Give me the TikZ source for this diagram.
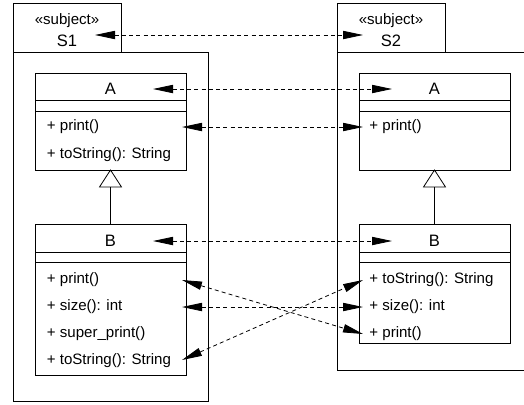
\documentclass[tikz,border=0pt]{standalone}
\usepackage{fontspec}
\setmainfont{Liberation Sans}
\usetikzlibrary{arrows.meta}
\tikzset{
  link/.style={dash pattern=on 3pt off 2.4pt, {Triangle[length=15pt,width=6.2pt]}-{Triangle[length=15pt,width=6.2pt]}},
  txt/.style={inner sep=0.75pt, font=\fontsize{11.3}{13}\selectfont},
  clsname/.style={inner sep=0.75pt, font=\fontsize{12.4}{14}\selectfont},
  op/.style={txt, anchor=west, inner xsep=4.5pt},
}
\begin{document}
\begin{tikzpicture}[x=0.75pt,y=0.75pt,yscale=-1,xscale=1, line width=0.6pt]
    \useasboundingbox (0,0) rectangle (524,404);
    \clip (0,0) rectangle (524,404);
    % packages
    \draw   (13,3) rectangle (121,52) ;
    \draw   (13,52) rectangle (208,401) ;
    \draw   (337,3) rectangle (445,52) ;
    \draw   (337,52) rectangle (540,370) ;
    \draw (67,21) node [txt] (st1) {«subject»};
    \draw (67,41) node [clsname] (s1) {S1};
    \draw (391,21) node [txt] (st2) {«subject»};
    \draw (391,41) node [clsname] (s2) {S2};
    % classes in S1
    \draw   (35,73) rectangle (186,170) ;
    \draw   (35,100) -- (186,100) (35,111) -- (186,111) ;
    \draw   (35,224) rectangle (186,375) ;
    \draw   (35,252) -- (186,252) (35,262) -- (186,262) ;
    \draw   (110.5,170) -- (99.5,187) -- (121.5,187) -- cycle ;
    \draw   (110.5,187) -- (110.5,224) ;
    \draw (110.5,89) node [clsname] (a1) {A};
    \draw (110.5,241) node [clsname] (b1) {B};
    \draw (40.5,127) node [op] (a1print) {+ print()};
    \draw (40.5,155) node [op] (a1tostr) {+ toString(): String};
    \draw (40.5,280) node [op] (b1print) {+ print()};
    \draw (40.5,307) node [op] (b1size) {+ size(): int};
    \draw (40.5,334) node [op] (b1super) {+ super\_print()};
    \draw (40.5,361) node [op] (b1tostr) {+ toString(): String};
    % classes in S2
    \draw   (359,73) rectangle (510,170) ;
    \draw   (359,100) -- (510,100) (359,111) -- (510,111) ;
    \draw   (359,224) rectangle (510,343) ;
    \draw   (359,252) -- (510,252) (359,262) -- (510,262) ;
    \draw   (434.5,170) -- (423.5,187) -- (445.5,187) -- cycle ;
    \draw   (434.5,187) -- (434.5,224) ;
    \draw (434.5,89) node [clsname] (a2) {A};
    \draw (434.5,241) node [clsname] (b2) {B};
    \draw (363,127) node [op] (a2print) {+ print()};
    \draw (363,280) node [op] (b2tostr) {+ toString(): String};
    \draw (363,307) node [op] (b2size) {+ size(): int};
    \draw (363,334) node [op] (b2print) {+ print()};
    % link ends
    \coordinate (s1r) at (95,35) ;
    \coordinate (s2l) at (363,35) ;
    \coordinate (a1r) at (153,89) ;
    \coordinate (a2l) at (392,89) ;
    \coordinate (p1r) at (182,127) ;
    \coordinate (b1r) at (153,241) ;
    \coordinate (b2l) at (392,241) ;
    \coordinate (bp1r) at (182,280) ;
    \coordinate (bs1r) at (182,307) ;
    \coordinate (bt1r) at (182,360) ;
    % links
    \draw [link] (s1r) -- (s2l) ;
    \draw [link] (a1r) -- (a2l) ;
    \draw [link] (p1r) -- (a2print.west) ;
    \draw [link] (b1r) -- (b2l) ;
    \draw [link] (bp1r) -- (b2print.west) ;
    \draw [link] (bs1r) -- (b2size.west) ;
    \draw [link] (bt1r) -- (b2tostr.west) ;
\end{tikzpicture}
\end{document}
